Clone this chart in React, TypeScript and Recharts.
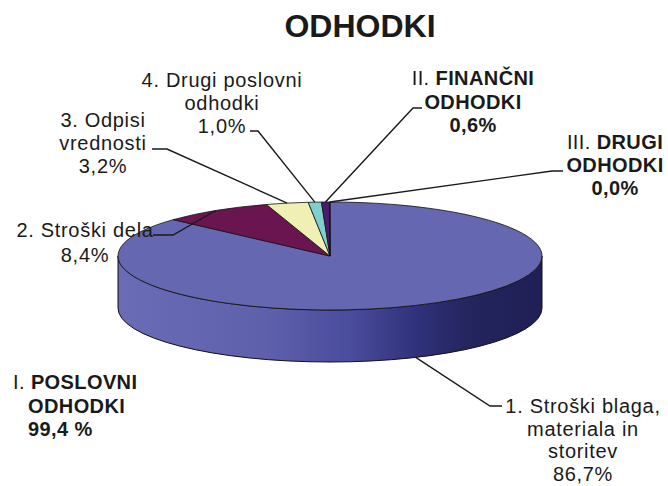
import React from "react";
import { PieChart, Pie, Cell } from "recharts";

// values
const shares = [86.7, 8.4, 3.2, 1.0, 0.6, 0.04];
const shareLabels = ["86,7%", "8,4%", "3,2%", "1,0%", "0,6%", "0,0%"];
const labelRows = [
  ["1. Stroški blaga,", "materiala in", "storitev"],
  ["2. Stroški dela"],
  ["3. Odpisi", "vrednosti"],
  ["4. Drugi poslovni", "odhodki"],
  ["II. FINANČNI", "ODHODKI"],
  ["III. DRUGI", "ODHODKI"],
];
const emphasized = [false, false, false, false, true, true];
const colors = ["#6567b0", "#6b1550", "#f0f0b4", "#80cfcf", "#4b1c6e", "#2a2a70"];
const groupLabel = ["POSLOVNI", "ODHODKI", "99,4 %"];
const title = "ODHODKI";

// label placement (text centre/baseline, leader bend and end)
const labelLayout = [
  { x: 583, y: 413, lh: 22.5, bend: [490, 406], end: [502, 406] },
  { x: 85, y: 237, lh: 25, bend: [173, 235], end: [153, 235] },
  { x: 103, y: 127, lh: 23, bend: [167, 149], end: [152, 149] },
  { x: 222, y: 87, lh: 23, bend: [258, 131], end: [250, 131] },
  { x: 473, y: 85, lh: 23.5, bend: [413, 108], end: [422, 108] },
  { x: 615, y: 149, lh: 23, bend: [552, 171], end: [563, 171] },
];

const data = shares.map((value, i) => ({ name: labelRows[i].join(" "), value }));

const FONT = "'Liberation Sans', Arial, Helvetica, sans-serif";
const K = 54 / 212; // tilt of the pie
const DEPTH = 52;
const RAD = Math.PI / 180;

function pt(cx: number, cy: number, r: number, a: number): [number, number] {
  return [cx + r * Math.cos(a * RAD), cy - r * K * Math.sin(a * RAD)];
}

// parts of [e, s] that face the viewer
function frontSpans(s: number, e: number) {
  const spans: [number, number][] = [];
  for (let k = -2; k <= 1; k++) {
    const lo = -180 + 360 * k;
    const hi = 360 * k;
    const a1 = Math.min(s, hi);
    const a2 = Math.max(e, lo);
    if (a1 > a2) spans.push([a1, a2]);
  }
  return spans;
}

function Slice3D(props: any) {
  const { cx, cy, outerRadius: r, startAngle, endAngle, fill } = props;
  const s = Math.max(startAngle, endAngle);
  const e = Math.min(startAngle, endAngle);
  const rx = r;
  const ry = r * K;
  const [x1, y1] = pt(cx, cy, r, s);
  const [x2, y2] = pt(cx, cy, r, e);
  const large = s - e > 180 ? 1 : 0;
  const top = `M${cx},${cy} L${x1},${y1} A${rx},${ry} 0 ${large} 1 ${x2},${y2} Z`;
  const sides = frontSpans(s, e).map(([a1, a2]) => {
    const [ax, ay] = pt(cx, cy, r, a1);
    const [bx, by] = pt(cx, cy, r, a2);
    const lg = a1 - a2 > 180 ? 1 : 0;
    return `M${ax},${ay} A${rx},${ry} 0 ${lg} 1 ${bx},${by} L${bx},${by + DEPTH} A${rx},${ry} 0 ${lg} 0 ${ax},${ay + DEPTH} Z`;
  });
  return (
    <g>
      {sides.map((d, i) => (
        <path key={i} d={d} fill="url(#sideGrad)" stroke="#111" strokeWidth={1} />
      ))}
      <path d={top} fill={fill} stroke="#111" strokeWidth={0.8} />
    </g>
  );
}

function renderLabel(props: any) {
  const { cx, cy, midAngle, outerRadius, index } = props;
  const lay = labelLayout[index];
  if (!lay) return null;
  let [ax, ay] = pt(cx, cy, outerRadius, midAngle);
  if (Math.sin(midAngle * RAD) < 0) ay += DEPTH;
  const rows = [...labelRows[index], shareLabels[index]];
  const bold = emphasized[index];
  return (
    <g>
      <polyline
        points={`${ax},${ay} ${lay.bend[0]},${lay.bend[1]} ${lay.end[0]},${lay.end[1]}`}
        fill="none"
        stroke="#1a1a1a"
        strokeWidth={1.4}
      />
      {rows.map((row, j) => {
        const y = lay.y + j * lay.lh;
        if (bold && j === 0) {
          const sp = row.indexOf(" ");
          return (
            <text key={j} x={lay.x} y={y} textAnchor="middle" fontSize={20} fill="#1a1a1a" fontFamily={FONT} letterSpacing={0.4}>
              <tspan>{row.slice(0, sp + 1)}</tspan>
              <tspan fontWeight="bold">{row.slice(sp + 1)}</tspan>
            </text>
          );
        }
        return (
          <text
            key={j}
            x={lay.x}
            y={y}
            textAnchor="middle"
            fontSize={20}
            fill="#1a1a1a"
            fontFamily={FONT}
            fontWeight={bold ? "bold" : "normal"}
            letterSpacing={bold ? 0.4 : 0.7}
          >
            {row}
          </text>
        );
      })}
    </g>
  );
}

export default function App() {
  return (
    <div style={{ position: "absolute", left: 0, top: 0, width: 668, height: 486, background: "#fff" }}>
      <PieChart width={668} height={486} margin={{ top: 0, right: 0, bottom: 0, left: 0 }}>
        <defs>
          <linearGradient id="sideGrad" x1="0" y1="0" x2="1" y2="0">
            <stop offset="0%" stopColor="#6a6cb6" />
            <stop offset="35%" stopColor="#5e60ac" />
            <stop offset="55%" stopColor="#4a4c9c" />
            <stop offset="70%" stopColor="#30327c" />
            <stop offset="82%" stopColor="#25255f" />
            <stop offset="100%" stopColor="#1f1f55" />
          </linearGradient>
        </defs>
        <text x={360} y={37} textAnchor="middle" fontSize={32} fontWeight="bold" fill="#1a1a1a" fontFamily={FONT}>
          {title}
        </text>
        <Pie
          data={data}
          dataKey="value"
          nameKey="name"
          cx={330}
          cy={256}
          outerRadius={212}
          startAngle={90}
          endAngle={-270}
          stroke="none"
          isAnimationActive={false}
          shape={Slice3D}
          inactiveShape={Slice3D}
          activeShape={Slice3D}
          label={renderLabel}
          labelLine={false}
        >
          {data.map((d, i) => (
            <Cell key={d.name} fill={colors[i]} />
          ))}
        </Pie>
        <text x={13} y={389} fontSize={20} fill="#1a1a1a" fontFamily={FONT} letterSpacing={0.4}>
          <tspan>I. </tspan>
          <tspan fontWeight="bold">{groupLabel[0]}</tspan>
        </text>
        <text x={28} y={413} fontSize={20} fontWeight="bold" fill="#1a1a1a" fontFamily={FONT} letterSpacing={0.4}>
          {groupLabel[1]}
        </text>
        <text x={28} y={436} fontSize={20} fontWeight="bold" fill="#1a1a1a" fontFamily={FONT} letterSpacing={0.4}>
          {groupLabel[2]}
        </text>
      </PieChart>
    </div>
  );
}
